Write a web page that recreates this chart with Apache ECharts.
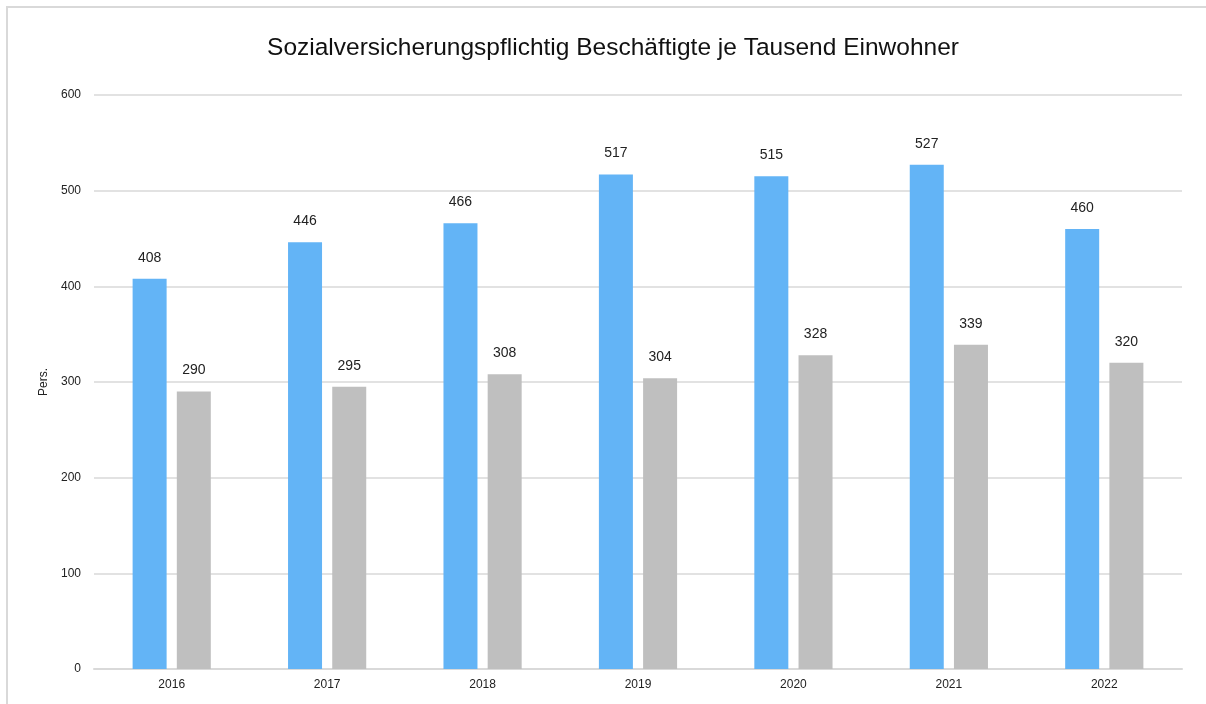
<!DOCTYPE html>
<html>
<head>
<meta charset="utf-8">
<script src="https://cdn.jsdelivr.net/npm/echarts@6/dist/echarts.min.js"></script>
<style>
  html, body { margin: 0; padding: 0; background: #fff; }
  #frame { position: absolute; left: 6px; top: 6px; width: 1210px; height: 710px; border: 2px solid #d9d9d9; box-sizing: border-box; }
  #chart { position: absolute; left: 0; top: 0; width: 1206px; height: 704px; }
</style>
</head>
<body>
<div id="frame"></div>
<div id="chart"></div>
<script>
const years = ["2016", "2017", "2018", "2019", "2020", "2021", "2022"];
const blueValues = [408, 446, 466, 517, 515, 527, 460];
const greyValues = [290, 295, 308, 304, 328, 339, 320];

const font = "'Liberation Sans', Arial, sans-serif";
const chart = echarts.init(document.getElementById("chart"));

const labelStyle = {
  show: true,
  position: "top",
  distance: 14,
  color: "#222",
  fontSize: 14,
  fontFamily: font,
};

chart.setOption({
  animation: false,
  title: {
    text: "Sozialversicherungspflichtig Beschäftigte je Tausend Einwohner",
    left: 608,
    textAlign: "center",
    top: 31,
    textStyle: {
      fontFamily: font,
      fontWeight: "normal",
      fontSize: 24.5,
      color: "#111",
    },
  },
  grid: {
    left: 94,
    right: 24,
    top: 95,
    bottom: 35,
  },
  xAxis: {
    type: "category",
    data: years,
    axisTick: { show: false },
    axisLine: { lineStyle: { color: "#d9d9d9", width: 2 } },
    axisLabel: { color: "#222", fontSize: 12, fontFamily: font, margin: 10 },
  },
  yAxis: {
    type: "value",
    min: 0,
    max: 600,
    interval: 100,
    name: "Pers.",
    nameLocation: "middle",
    nameGap: 40,
    nameTextStyle: { color: "#222", fontSize: 12, fontFamily: font },
    axisLine: { show: false },
    axisTick: { show: false },
    axisLabel: { color: "#222", fontSize: 12, fontFamily: font, margin: 13 },
    splitLine: { lineStyle: { color: "#d9d9d9", width: 1.5 } },
  },
  series: [
    {
      type: "bar",
      data: blueValues,
      barWidth: 34,
      barGap: "30%",
      itemStyle: { color: "#63b4f6" },
      label: labelStyle,
    },
    {
      type: "bar",
      data: greyValues,
      barWidth: 34,
      itemStyle: { color: "#bfbfbf" },
      label: labelStyle,
    },
  ],
});
</script>
</body>
</html>
